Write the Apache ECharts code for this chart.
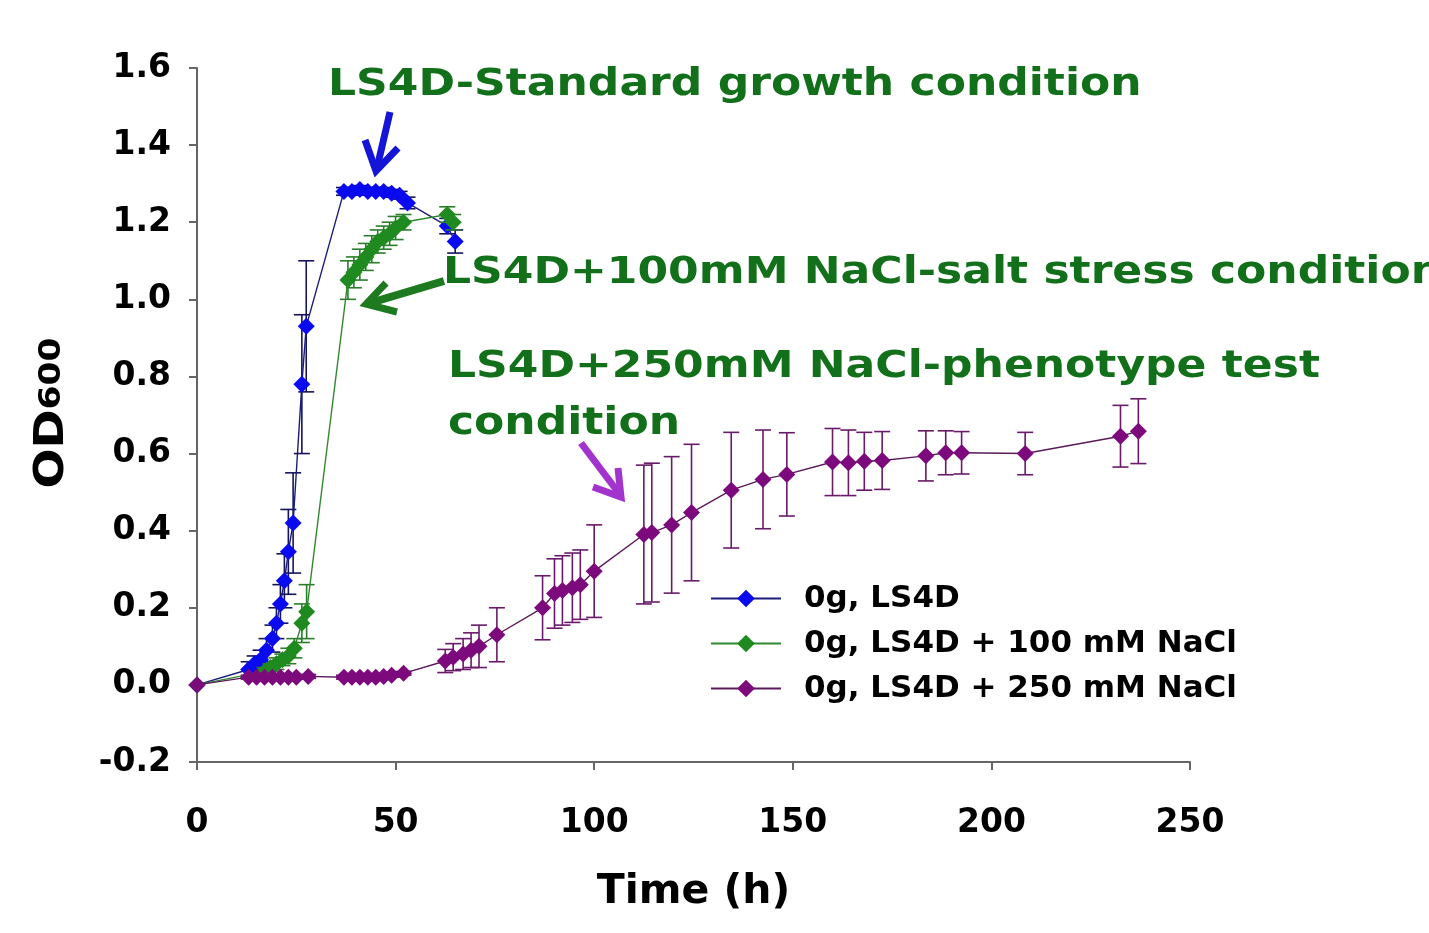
<!DOCTYPE html>
<html>
<head>
<meta charset="utf-8">
<script src="https://cdn.jsdelivr.net/npm/echarts@6/dist/echarts.min.js"></script>
<style>
html,body{margin:0;padding:0;background:#fff;}
#chart{width:1429px;height:933px;}
</style>
</head>
<body>
<div id="chart"></div>
<script>
// ---- Data ----
var seriesNames = ['0g, LS4D', '0g, LS4D + 100 mM NaCl', '0g, LS4D + 250 mM NaCl'];

var timeLS4D = [0, 13, 14.5, 16, 17.5, 19, 20, 21, 22, 23, 24.2, 26.4, 27.5, 37, 39, 41, 43, 45, 47, 49, 51, 53, 63, 65];
var odLS4D   = [0, 0.04, 0.055, 0.065, 0.09, 0.12, 0.16, 0.21, 0.27, 0.345, 0.42, 0.78, 0.93, 1.28, 1.28, 1.285, 1.28, 1.28, 1.28, 1.275, 1.27, 1.25, 1.19, 1.15];
var errLS4D  = [0, 0.02, 0.02, 0.025, 0.03, 0.035, 0.04, 0.05, 0.07, 0.11, 0.13, 0.18, 0.17, 0.01, 0.01, 0.01, 0.01, 0.01, 0.01, 0.01, 0.01, 0.015, 0.02, 0.03];

var time100 = [0, 17, 18.5, 20, 21.5, 23, 24.5, 26.4, 27.6, 38, 39.5, 41, 42.5, 44, 45.5, 47, 48.5, 50, 52, 63, 64.5];
var od100   = [0, 0.035, 0.045, 0.055, 0.065, 0.075, 0.095, 0.16, 0.19, 1.05, 1.07, 1.09, 1.11, 1.13, 1.15, 1.16, 1.17, 1.185, 1.2, 1.22, 1.2];
var err100  = [0, 0.01, 0.01, 0.015, 0.015, 0.02, 0.025, 0.05, 0.07, 0.05, 0.04, 0.04, 0.035, 0.035, 0.03, 0.03, 0.03, 0.03, 0.02, 0.02, 0.02];

var time250 = [0, 13, 15, 17, 19, 21, 23, 25, 28, 37, 39, 41, 43, 45, 47, 49, 52, 62.5, 64.5, 67, 69, 71, 75.5, 87, 90, 92, 94.5, 96.5, 100, 112.5, 114.5, 119.5, 124.5, 134.5, 142.5, 148.5, 160, 164, 168, 172.5, 183.5, 188.5, 192.5, 208.5, 232.5, 237];
var od250   = [0, 0.02, 0.02, 0.02, 0.02, 0.02, 0.02, 0.02, 0.022, 0.02, 0.02, 0.02, 0.02, 0.02, 0.022, 0.025, 0.03, 0.062, 0.072, 0.08, 0.09, 0.1, 0.13, 0.2, 0.237, 0.245, 0.252, 0.26, 0.295, 0.39, 0.395, 0.415, 0.447, 0.505, 0.533, 0.546, 0.578, 0.576, 0.58, 0.582, 0.594, 0.602, 0.602, 0.6, 0.645, 0.658];
var err250  = [0, 0.005, 0.005, 0.005, 0.005, 0.005, 0.005, 0.005, 0.005, 0.005, 0.005, 0.005, 0.005, 0.005, 0.005, 0.005, 0.005, 0.03, 0.035, 0.04, 0.045, 0.055, 0.07, 0.083, 0.09, 0.09, 0.09, 0.09, 0.12, 0.18, 0.18, 0.177, 0.177, 0.15, 0.128, 0.108, 0.087, 0.085, 0.075, 0.075, 0.065, 0.057, 0.055, 0.055, 0.08, 0.084];

var xTicks = {min: 0, max: 250, interval: 50};
var yTicks = {min: -0.2, max: 1.6, interval: 0.2};

var annotationTexts = ['LS4D-Standard growth condition', 'LS4D+100mM NaCl-salt stress condition', 'LS4D+250mM NaCl-phenotype test', 'condition'];

// ---- Styles ----
var FONT = '"DejaVu Sans", Verdana, sans-serif';
var colors = {
  marker: ['#0a0af0', '#1f8a1f', '#7d0a7d'],
  line:   ['#1c1c7a', '#2f8a2f', '#5a1a5a'],
  err:    ['#14145e', '#2a7d2a', '#6a1a6a']
};

function pairs(t, v) { return t.map(function (x, i) { return [x, v[i]]; }); }
function triples(t, v, e) { return t.map(function (x, i) { return [x, v[i], e[i]]; }); }

function errRender(color) {
  return function (params, api) {
    var x = api.value(0), y = api.value(1), e = api.value(2);
    if (!e) return null;
    var hi = api.coord([x, y + e]);
    var lo = api.coord([x, y - e]);
    var w = 8;
    var st = {stroke: color, lineWidth: 1.6};
    return {
      type: 'group',
      children: [
        {type: 'line', shape: {x1: hi[0], y1: hi[1], x2: lo[0], y2: lo[1]}, style: st},
        {type: 'line', shape: {x1: hi[0] - w, y1: hi[1], x2: hi[0] + w, y2: hi[1]}, style: st},
        {type: 'line', shape: {x1: lo[0] - w, y1: lo[1], x2: lo[0] + w, y2: lo[1]}, style: st}
      ]
    };
  };
}

var times = [timeLS4D, time100, time250];
var ods = [odLS4D, od100, od250];
var errs = [errLS4D, err100, err250];

var series = [];
for (var k = 0; k < 3; k++) {
  series.push({
    name: 'err' + k,
    type: 'custom',
    renderItem: errRender(colors.err[k]),
    encode: {x: 0, y: 1},
    data: triples(times[k], ods[k], errs[k]),
    z: 2 + k * 2,
    silent: true
  });
}
for (var k2 = 0; k2 < 3; k2++) {
  series.push({
    name: seriesNames[k2],
    type: 'line',
    data: pairs(times[k2], ods[k2]),
    symbol: 'diamond',
    symbolSize: 17,
    showAllSymbol: true,
    itemStyle: {color: colors.marker[k2]},
    lineStyle: {color: colors.line[k2], width: 1.4},
    z: 3 + k2 * 2,
    animation: false
  });
}

var green = '#13701a';
var annFont = 'bold 37px ' + FONT;
function annText(str, x, y) {
  return {type: 'text', x: x, y: y, scaleX: 1.19, scaleY: 1,
    style: {text: str, font: annFont, fill: green, align: 'left', verticalAlign: 'middle',
            textAlign: 'left', textVerticalAlign: 'middle'}};
}

var option = {
  animation: false,
  backgroundColor: '#ffffff',
  grid: {left: 197, top: 68, right: 239, bottom: 171, containLabel: false},
  xAxis: {
    type: 'value',
    min: xTicks.min, max: xTicks.max, interval: xTicks.interval,
    name: 'Time (h)',
    nameLocation: 'middle',
    nameGap: 110,
    nameTextStyle: {fontFamily: FONT, fontWeight: 'bold', fontSize: 41, color: '#000'},
    axisLine: {show: true, onZero: false, lineStyle: {color: '#666', width: 2}},
    axisTick: {show: true, inside: false, length: 8, lineStyle: {color: '#666', width: 2}},
    axisLabel: {fontFamily: FONT, fontWeight: 'bold', fontSize: 33, color: '#000', margin: 45},
    splitLine: {show: false}
  },
  yAxis: {
    type: 'value',
    min: yTicks.min, max: yTicks.max, interval: yTicks.interval,
    axisLine: {show: true, onZero: false, lineStyle: {color: '#666', width: 2}},
    axisTick: {show: true, inside: false, length: 8, lineStyle: {color: '#666', width: 2}},
    axisLabel: {
      fontFamily: FONT, fontWeight: 'bold', fontSize: 33, color: '#000', margin: 26,
      formatter: function (v) { return v.toFixed(1); }
    },
    splitLine: {show: false}
  },
  legend: {
    data: seriesNames,
    orient: 'vertical',
    left: 705,
    top: 578,
    itemWidth: 70,
    itemHeight: 22,
    itemGap: 14,
    textStyle: {fontFamily: FONT, fontWeight: 'bold', fontSize: 31, color: '#000', padding: [0, 0, 0, 18]},
    selectedMode: false
  },
  graphic: [
    annText(annotationTexts[0], 328, 85),
    annText(annotationTexts[1], 443, 273),
    annText(annotationTexts[2], 448, 367),
    annText(annotationTexts[3], 448, 424),
    // y axis title with subscript
    {type: 'text', x: 52, y: 413, rotation: Math.PI / 2, scaleX: 1.15,
      style: {text: '{a|OD}{b|600}', align: 'center', verticalAlign: 'middle',
        textAlign: 'center', textVerticalAlign: 'middle',
        rich: {
          a: {fontFamily: FONT, fontWeight: 'bold', fontSize: 41, fill: '#000', color: '#000'},
          b: {fontFamily: FONT, fontWeight: 'bold', fontSize: 30, fill: '#000', color: '#000'}
        }}},
    // blue arrow
    {type: 'polyline', shape: {points: [[390, 112], [377, 168]]}, style: {stroke: '#1515d8', lineWidth: 7, fill: null}},
    {type: 'polyline', shape: {points: [[365, 140], [376, 171], [398, 148]]}, style: {stroke: '#1515d8', lineWidth: 7, fill: null, lineJoin: 'miter'}},
    // green arrow
    {type: 'polyline', shape: {points: [[444, 281], [370, 303]]}, style: {stroke: '#1e7a1e', lineWidth: 8, fill: null}},
    {type: 'polyline', shape: {points: [[386, 283], [366, 304], [397, 312]]}, style: {stroke: '#1e7a1e', lineWidth: 7, fill: null, lineJoin: 'miter'}},
    // purple arrow
    {type: 'polyline', shape: {points: [[581, 443], [618, 492]]}, style: {stroke: '#a233cc', lineWidth: 7, fill: null}},
    {type: 'polyline', shape: {points: [[593, 487], [621, 497], [618, 468]]}, style: {stroke: '#a233cc', lineWidth: 7, fill: null, lineJoin: 'miter'}}
  ],
  series: series
};

var chart = echarts.init(document.getElementById('chart'), null, {renderer: 'canvas'});
chart.setOption(option);
</script>
</body>
</html>
